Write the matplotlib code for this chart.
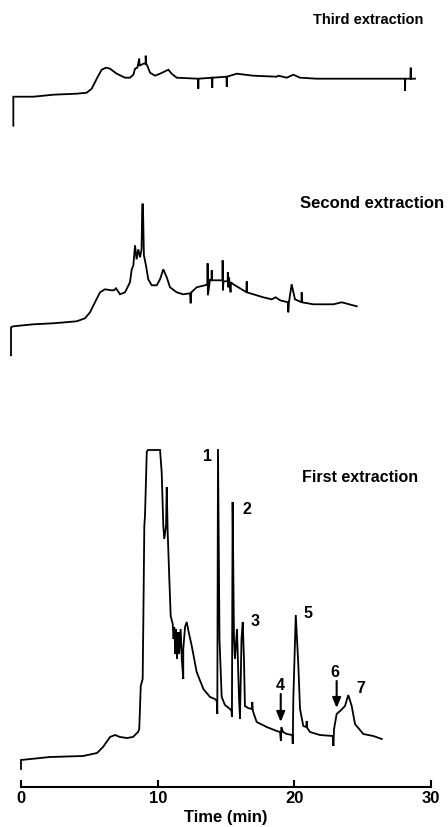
import matplotlib as mpl
import matplotlib.pyplot as plt

mpl.rcParams.update({
    "font.family": ["Liberation Sans", "DejaVu Sans"],
    "font.weight": "bold",
    "font.size": 10,
})

# chromatogram traces: retention time (min) and detector response (arb. units above start baseline)
first_time = [0.00, 0.00, 2.12, 4.54, 5.56, 6.00, 6.51, 6.88, 7.24, 7.75, 8.19, 8.56, 8.65, 8.76,
              8.90, 8.95, 9.02, 9.07, 9.20, 9.27, 10.17, 10.29, 10.41, 10.48, 10.61, 10.66, 10.73,
              10.85, 10.95, 11.10, 11.16, 11.21, 11.29, 11.34, 11.41, 11.51, 11.56, 11.68, 11.76,
              11.87, 11.87, 12.00, 12.12, 12.25, 12.49, 12.85, 13.34, 13.83, 14.19, 14.32, 14.36,
              14.41, 14.52, 14.68, 14.92, 15.29, 15.40, 15.43, 15.48, 15.58, 15.65, 15.80, 15.95,
              16.02, 16.13, 16.22, 16.31, 16.38, 16.61, 16.88, 16.92, 16.96, 17.24, 17.97, 18.71,
              18.95, 19.01, 19.04, 19.17, 19.44, 19.85, 19.88, 19.92, 20.10, 20.29, 20.41, 20.65,
              20.86, 20.90, 20.94, 21.14, 21.87, 22.82, 22.85, 22.90, 23.09, 23.34, 23.70, 23.94,
              24.19, 24.43, 25.04, 25.77, 26.39]
first_signal = [-9, 0, 3, 4, 7, 13, 23, 25, 23, 22, 23, 28, 31, 74,
                81, 141, 234, 244, 308, 310, 310, 288, 234, 221, 234, 273, 228,
                181, 144, 136, 121, 133, 106, 131, 101, 128, 106, 131, 101,
                81, 111, 133, 138, 129, 114, 88, 71, 63, 61, 59, 46,
                311, 121, 63, 55, 51, 49, 43, 258, 121, 101, 131, 61,
                41, 121, 138, 101, 54, 52, 51, 58, 49, 38, 33, 29,
                28, 19, 33, 28, 26, 25, 16, 61, 145, 94, 51, 34,
                33, 39, 32, 28, 25, 24, 14, 31, 46, 49, 54, 65,
                54, 36, 26, 24, 21]

second_time = [-0.73, -0.73, -0.56, 0.90, 2.36, 4.07, 4.68, 5.05, 5.41, 5.78, 6.14, 6.63, 6.80,
               6.95, 7.10, 7.24, 7.61, 7.97, 8.10, 8.22, 8.34, 8.46, 8.58, 8.71, 8.82, 8.87, 8.92,
               8.99, 9.14, 9.31, 9.56, 9.93, 10.17, 10.41, 10.66, 10.90, 11.39, 11.87, 12.36,
               12.41, 12.46, 12.85, 13.46, 13.64, 13.65, 13.67, 13.83, 13.95, 13.95, 13.96, 14.19,
               14.74, 14.75, 14.77, 14.81, 15.12, 15.13, 15.16, 15.22, 15.33, 15.36, 15.53, 16.02,
               16.50, 16.51, 16.52, 17.72, 18.34, 18.63, 18.95, 19.53, 19.55, 19.60, 19.80, 20.04,
               20.52, 20.53, 20.55, 21.38, 22.85, 23.46, 24.56]
second_signal = [-29, -1, 0, 2, 3, 5, 8, 14, 24, 34, 37, 36, 36,
                 38, 35, 32, 34, 44, 57, 61, 81, 67, 77, 69, 77, 122, 122,
                 71, 61, 47, 41, 41, 47, 57, 49, 39, 34, 32, 33,
                 23, 34, 39, 41, 42, 63, 31, 47, 46, 56, 46, 46,
                 46, 66, 36, 45, 45, 54, 39, 49, 34, 44, 42, 38,
                 34, 45, 34, 29, 27, 29, 26, 24, 14, 24, 42, 27,
                 24, 34, 24, 22, 22, 24, 20]

third_time = [-0.56, -0.56, 0.90, 2.36, 4.07, 4.81, 5.17, 5.54, 5.90, 6.22, 6.51, 7.00, 7.61,
              7.97, 8.22, 8.34, 8.51, 8.65, 8.67, 8.95, 9.11, 9.12, 9.16, 9.24, 9.44, 9.80,
              10.17, 10.78, 11.02, 11.39, 12.95, 12.97, 12.99, 13.97, 13.99, 14.01, 15.03, 15.05,
              15.07, 15.78, 16.99, 18.71, 18.82, 19.44, 19.92, 20.41, 21.63, 25.29, 28.08, 28.09,
              28.11, 28.49, 28.51, 28.52, 28.82]
third_signal = [-29, 0, 0, 2, 3, 4, 8, 18, 27, 29, 28, 23, 19,
                19, 22, 28, 29, 38, 31, 33, 33, 41, 33, 31, 24, 21,
                23, 27, 23, 19, 18, 8, 18, 19, 9, 19, 20, 10,
                20, 23, 21, 20, 21, 19, 22, 19, 18, 18, 18, 6,
                18, 18, 29, 18, 18]

trace_labels = ["First extraction", "Second extraction", "Third extraction"]
x_ticks = [0, 10, 20, 30]

# peak numbers on the first extraction: (label, time, height above that trace's baseline)
peak_labels = [("1", 13.61, 304), ("2", 16.53, 251), ("3", 17.12, 139), ("5", 21.00, 148),
               ("4", 18.95, 75), ("6", 22.97, 88), ("7", 24.85, 72)]
arrow_peaks = [(19.00, 66, 38), (23.09, 79, 52)]

# layout: vertical offsets of each trace (figure drawn on a 0..828 vertical scale)
offsets = [67.0, 500.7, 730.3]
label_pos = [(24.80, 350), (25.68, 625), (25.38, 808)]
label_size = [11.5, 12, 10.5]

fig = plt.figure(figsize=(4.48, 8.28), dpi=100)
ax = fig.add_axes([0, 0, 1, 1])
ax.set_xlim(-1.536, 31.235)
ax.set_ylim(0, 828)

traces = [(first_time, first_signal), (second_time, second_signal), (third_time, third_signal)]
for (t, s), off in zip(traces, offsets):
    ax.plot(t, [v + off for v in s], color="black", lw=1.3, solid_joinstyle="miter")

for name, (x, y), fs in zip(trace_labels, label_pos, label_size):
    ax.text(x, y, name, ha="center", va="center", fontsize=fs, fontweight="bold")

for lab, x, h in peak_labels:
    ax.text(x, h + offsets[0], lab, ha="center", va="center", fontsize=11.5, fontweight="bold")
for x, y0, y1 in arrow_peaks:
    ax.annotate("", xy=(x, y1 + offsets[0]), xytext=(x, y0 + offsets[0]),
                arrowprops=dict(arrowstyle="-|>,head_length=0.6,head_width=0.25",
                                color="black", lw=1.5, shrinkA=0, shrinkB=0))

for side in ["top", "right", "left"]:
    ax.spines[side].set_visible(False)
ax.spines["bottom"].set_position(("data", 40))
ax.spines["bottom"].set_bounds(0, 30)
ax.spines["bottom"].set_linewidth(1.5)
ax.set_yticks([])
ax.set_xticks(x_ticks)
ax.set_xticklabels([str(v) for v in x_ticks], fontsize=12, fontweight="bold")
ax.tick_params(axis="x", direction="in", length=5, width=1.5, pad=2)
ax.text(15, 10, "Time (min)", ha="center", va="center", fontsize=12, fontweight="bold")

fig.savefig("out.png", dpi=100)
